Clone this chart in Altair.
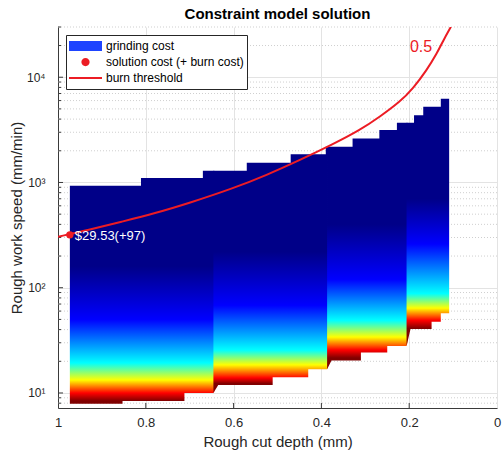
import math
import altair as alt
import pandas as pd

# ------------------------------------------------------------------
# Values
# ------------------------------------------------------------------
TITLE = "Constraint model solution"
X_TITLE = "Rough cut depth (mm)"
Y_TITLE = "Rough work speed (mm/min)"
LEGEND_LABELS = ["grinding cost", "solution cost (+ burn cost)", "burn threshold"]

X_TICKS = [0, 0.2, 0.4, 0.6, 0.8, 1]
Y_TICKS = [10, 100, 1000, 10000]
Y_TICK_TEXT = ["10¹", "10²", "10³", "10⁴"]
Y_MINOR = [8, 9, 20, 30, 40, 50, 60, 70, 80, 90,
           200, 300, 400, 500, 600, 700, 800, 900,
           2000, 3000, 4000, 5000, 6000, 7000, 8000, 9000, 20000, 30000]
Y_DOMAIN = [7.2, 30000]

# upper edge of the grinding-cost region (vertices: depth mm, speed mm/min)
TOP_X = [0.973, 0.811, 0.811, 0.670, 0.670, 0.570, 0.570, 0.470, 0.470, 0.390, 0.390, 0.329,
         0.329, 0.268, 0.268, 0.228, 0.228, 0.189, 0.189, 0.168, 0.168, 0.128, 0.128, 0.109]
TOP_V = [930, 930, 1100, 1100, 1290, 1290, 1540, 1540, 1850, 1850, 2180, 2180,
         2620, 2620, 3150, 3150, 3690, 3690, 4360, 4360, 5240, 5240, 6240, 6240]

# lower edge of the grinding-cost region (vertices)
BOT_X = [0.973, 0.853, 0.853, 0.712, 0.712, 0.646, 0.635, 0.511, 0.511, 0.430, 0.430, 0.387,
         0.377, 0.310, 0.310, 0.250, 0.250, 0.206, 0.197, 0.149, 0.149, 0.128, 0.128, 0.109]
BOT_V = [7.9, 7.9, 8.4, 8.4, 10.0, 10.0, 11.9, 11.9, 14.1, 14.1, 16.8, 16.8,
         20.3, 20.3, 24.2, 24.2, 27.9, 27.9, 40.5, 40.5, 47.5, 47.5, 57.2, 57.2]

# pass-count segments (colour discontinuities) along the depth axis
SEG_EDGES = [0.973, 0.646, 0.387, 0.206, 0.109]
# speeds at which the jet colours appear in each segment (bottom -> top)
JET = ["#800000", "#FF0000", "#FFFF00", "#00FFFF", "#0000FF", "#000088"]
SEG_COLOR_SPEEDS = [
    [8.4, 10.0, 13.3, 19.3, 50, 160],
    [12.3, 13.9, 18.5, 25.6, 68, 220],
    [21.5, 25.6, 34, 49, 120, 400],
    [41, 49, 64, 88, 260, 700],
]

# burn threshold curve
BURN_X = [1.0, 0.931, 0.855, 0.779, 0.703, 0.601, 0.525, 0.449, 0.373, 0.312,
          0.267, 0.221, 0.191, 0.160, 0.137, 0.122, 0.105]
BURN_V = [305, 353, 424, 509, 634, 879, 1175, 1632, 2317, 3147,
          4210, 5840, 7830, 11700, 16800, 22500, 30100]
BURN_LABEL = "0.5"
BURN_LABEL_X = 0.173
BURN_LABEL_V = 19500

# optimum
SOL_X = [0.973]
SOL_V = [318]
SOL_TEXT = ["$29.53(+97)"]

RED = "#EC1C24"
AXIS_GREY = "#3A3A3A"
LEGEND_COLORS = ["#1E44FF", RED, RED]
LEGEND_SHAPES = [
    "M-1,-0.3H1V0.3H-1Z",
    "M0.25,0A0.25,0.25 0 1,1 -0.25,0A0.25,0.25 0 1,1 0.25,0Z",
    "M-1,-0.065H1V0.065H-1Z",
]
FONT = "Liberation Sans"

# ------------------------------------------------------------------
# Build the region outline from the edge vertices
# ------------------------------------------------------------------
def at(xs, vs, x, eps=1e-9):
    hits = [v for xv, v in zip(xs, vs) if abs(xv - x) < eps]
    if hits:
        return hits
    for i in range(len(xs) - 1):
        if xs[i] > x > xs[i + 1]:
            f = (xs[i] - x) / (xs[i] - xs[i + 1])
            lv = math.log10(vs[i]) + f * (math.log10(vs[i + 1]) - math.log10(vs[i]))
            return [10 ** lv]
    return []


OVERLAP = 0.002  # each segment slips under the next one, hiding seams
xs_all = set(TOP_X) | set(BOT_X)
xs_all |= {e - OVERLAP for e in SEG_EDGES[1:-1]}
xs_all = sorted(xs_all, reverse=True)
rows = []
for x in xs_all:
    t = at(TOP_X, TOP_V, x)
    b = at(BOT_X, BOT_V, x)
    rows.append((x, b[0], t[0]))
    if len(t) > 1 or len(b) > 1:
        # vertical step: nudge so the path keeps its order when sorted by depth
        rows.append((x - 1e-6, b[-1], t[-1]))

x_scale = alt.Scale(domain=[0, 1], reverse=True, nice=False, zero=False)
y_scale = alt.Scale(type="log", domain=Y_DOMAIN, nice=False)

label_expr = " : ".join(
    f"datum.value == {v} ? '{s}'" for v, s in zip(Y_TICKS[:-1], Y_TICK_TEXT[:-1])
) + f" : '{Y_TICK_TEXT[-1]}'"

x_axis = alt.Axis(values=X_TICKS, format=".1~f", title=X_TITLE, labelFlush=False,
                  labelOverlap=False, grid=True, ticks=False, tickSize=0,
                  labelPadding=8, titlePadding=5, labelFontSize=13, titleFontSize=15)
y_axis = alt.Axis(values=Y_TICKS, labelExpr=label_expr, title=Y_TITLE, labelFlush=False,
                  labelOverlap=False, grid=True, ticks=False, tickSize=0,
                  labelPadding=13, titlePadding=2, labelFontSize=12, titleFontSize=15)

# minor dotted grid
minor = alt.Chart(pd.DataFrame({"v": Y_MINOR})).mark_rule(
    color="#CFCFCF", strokeDash=[1, 2], strokeWidth=1
).encode(y=alt.Y("v:Q", scale=y_scale, axis=y_axis))

layers = [minor]
for k in range(len(SEG_EDGES) - 1):
    hi, lo = SEG_EDGES[k], SEG_EDGES[k + 1]
    ext = OVERLAP if k < len(SEG_EDGES) - 2 else 0
    seg = [r for r in rows if lo - ext - 1e-5 <= r[0] <= hi + 1e-9]
    df = pd.DataFrame({
        "depth": [r[0] for r in seg],
        "low": [r[1] for r in seg],
        "high": [r[2] for r in seg],
    })
    lb = math.log10(min(df["low"]))
    lt = math.log10(max(df["high"]))
    la = [math.log10(a) for a in SEG_COLOR_SPEEDS[k]]

    def fy(l):
        return (lt - l) / (lt - lb)

    grad = alt.LinearGradient(
        gradient="linear", x1=0, x2=0, y1=fy(la[0]), y2=fy(la[-1]),
        stops=[alt.GradientStop(offset=(l - la[0]) / (la[-1] - la[0]), color=c)
               for l, c in zip(la, JET)],
    )
    area = alt.Chart(df).mark_area(color=grad, interpolate="linear").encode(
        x=alt.X("depth:Q", scale=x_scale, axis=x_axis),
        y=alt.Y("low:Q", scale=y_scale, axis=y_axis),
        y2="high:Q",
    )
    layers.append(area)

# inward tick marks (MATLAB style)
x_ticks_in = alt.Chart(pd.DataFrame({"v": X_TICKS[1:-1]})).mark_rule(
    color=AXIS_GREY, strokeWidth=1
).encode(x=alt.X("v:Q", scale=x_scale), y=alt.value(381), y2=alt.value(376))
y_major_in = alt.Chart(pd.DataFrame({"v": Y_TICKS})).mark_rule(
    color=AXIS_GREY, strokeWidth=1
).encode(y=alt.Y("v:Q", scale=y_scale), x=alt.value(0), x2=alt.value(5))
y_minor_in = alt.Chart(pd.DataFrame({"v": Y_MINOR})).mark_rule(
    color=AXIS_GREY, strokeWidth=1
).encode(y=alt.Y("v:Q", scale=y_scale), x=alt.value(0), x2=alt.value(3))

burn = alt.Chart(pd.DataFrame({"depth": BURN_X, "speed": BURN_V})).mark_line(
    color=RED, strokeWidth=2, clip=True, interpolate="basis"
).encode(x=alt.X("depth:Q", scale=x_scale), y=alt.Y("speed:Q", scale=y_scale))

burn_label = alt.Chart(pd.DataFrame({"depth": [BURN_LABEL_X], "speed": [BURN_LABEL_V],
                                     "t": [BURN_LABEL]})).mark_text(
    color=RED, fontSize=16, font=FONT, align="center", baseline="middle"
).encode(x=alt.X("depth:Q", scale=x_scale), y=alt.Y("speed:Q", scale=y_scale), text="t:N")

sol_df = pd.DataFrame({"depth": SOL_X, "speed": SOL_V, "t": SOL_TEXT})
sol_pt = alt.Chart(sol_df).mark_point(filled=True, size=55, color=RED, opacity=1).encode(
    x=alt.X("depth:Q", scale=x_scale), y=alt.Y("speed:Q", scale=y_scale))
sol_txt = alt.Chart(sol_df).mark_text(
    color="white", fontSize=13, font=FONT, align="left", baseline="middle", dx=5, dy=1
).encode(x=alt.X("depth:Q", scale=x_scale), y=alt.Y("speed:Q", scale=y_scale), text="t:N")

legend_layer = alt.Chart(
    alt.Data(values=[{"series": s} for s in LEGEND_LABELS])
).transform_filter("false").mark_point(filled=True, opacity=1).encode(
    color=alt.Color("series:N", scale=alt.Scale(domain=LEGEND_LABELS, range=LEGEND_COLORS),
                    legend=alt.Legend(title=None)),
    shape=alt.Shape("series:N", scale=alt.Scale(domain=LEGEND_LABELS, range=LEGEND_SHAPES),
                    legend=alt.Legend(title=None)),
)

layers += [x_ticks_in, y_major_in, y_minor_in, burn, burn_label, sol_pt, sol_txt, legend_layer]

chart = alt.layer(*layers).properties(
    width=439, height=381,
    padding={"left": 58, "top": 27, "right": 5, "bottom": 47},
    autosize=alt.AutoSizeParams(type="none"),
    title=alt.TitleParams(TITLE, fontSize=15, fontWeight="bold", color="#000000",
                          anchor="middle", offset=5, font=FONT),
).configure(font=FONT, background="white").configure_view(stroke=None).configure_axis(
    labelFont=FONT, titleFont=FONT, labelColor="#262626", titleColor="#262626",
    titleFontWeight="normal", domainColor=AXIS_GREY, domainWidth=1,
    gridColor="#E3E3E3", gridWidth=1,
).configure_legend(
    orient="top-left", offset=8, padding=3, strokeColor="#262626", fillColor="white",
    labelFont=FONT, labelFontSize=12, labelColor="#000000", symbolSize=1089,
    clipHeight=16, rowPadding=0, labelOffset=4, symbolStrokeWidth=0, symbolOpacity=1,
    cornerRadius=0,
)

chart.save("out.html", embed_options={"renderer": "svg", "actions": False})
